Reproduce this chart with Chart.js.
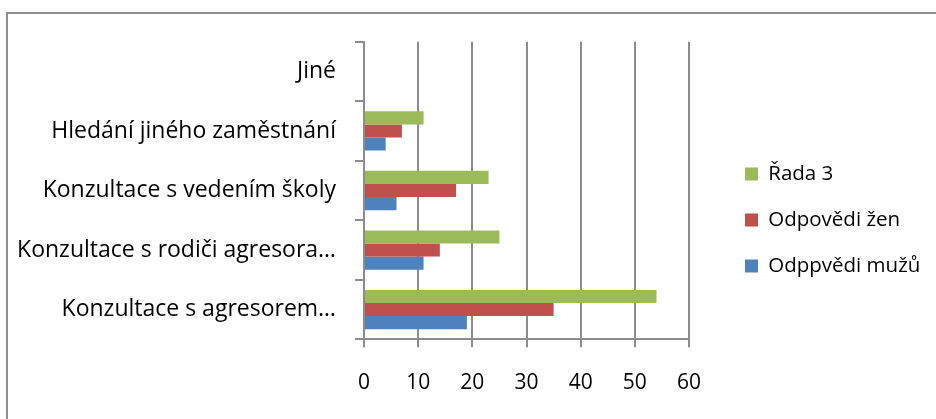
<!DOCTYPE html>
<html><head><meta charset="utf-8">
<script src="https://cdn.jsdelivr.net/npm/chart.js@4"></script>
<style>
html,body{margin:0;padding:0;background:#fff;}
#wrap{position:relative;width:936px;height:419px;overflow:hidden;}
#frame{position:absolute;left:6px;top:12px;width:940px;height:420px;border-top:2px solid #8e8e8e;border-left:2px solid #8e8e8e;box-sizing:border-box;pointer-events:none;}
canvas{position:absolute;left:0;top:0;}
</style></head><body>
<div id="wrap"><canvas id="c" width="936" height="419"></canvas><div id="frame"></div></div>
<script>
// ---- data (categories listed top to bottom) ----
const categories = ['Jiné', 'Hledání jiného zaměstnání', 'Konzultace s vedením školy', 'Konzultace s rodiči agresora…', 'Konzultace s agresorem…'];
const seriesNames = ['Řada 3', 'Odpovědi žen', 'Odppvědi mužů'];
const rada3 = [null, 11, 23, 25, 54];
const odpovediZen = [null, 7, 17, 14, 35];
const odpovediMuzu = [null, 4, 6, 11, 19];
const xTicks = [0, 10, 20, 30, 40, 50, 60];

// ---- styling / layout constants ----
const colors = ['#9BBB59', '#C0504D', '#4F81BD'];
const GRID = '#8c8c8c';
const CHART_LEFT = 364, CHART_TOP = 41.7, CHART_BOTTOM = 339.3, W = 936, H = 419;
const LEGEND_W = 247, LEGEND_PAD = 25.5, LEGEND_ITEM_X = 745;

const legendPlacer = {
  id: 'legendPlacer',
  beforeLayout(chart) {
    const lg = chart.legend;
    if (lg && !lg.__wrapped) {
      const f = lg.fit;
      lg.fit = function () { f.call(this); this.width = LEGEND_W; };
      lg.__wrapped = true;
    }
  },
  afterLayout(chart) {
    const lg = chart.legend;
    const shift = LEGEND_ITEM_X - LEGEND_PAD - lg.left;
    lg.left += shift; lg.right = lg.left + lg.width;
    lg.top = 21; lg.bottom = H; lg.height = H - 21;
  }
};

const seriesData = [rada3, odpovediZen, odpovediMuzu];
new Chart(document.getElementById('c'), {
  type: 'bar',
  data: {
    labels: categories,
    datasets: seriesNames.map((n, i) => ({
      label: n, data: seriesData[i], backgroundColor: colors[i], borderWidth: 0,
      barPercentage: 1.0, categoryPercentage: 0.66
    }))
  },
  options: {
    indexAxis: 'y',
    responsive: false,
    animation: false,
    layout: { padding: { top: CHART_TOP, left: 0, right: 0, bottom: 0 } },
    scales: {
      x: {
        min: xTicks[0], max: xTicks[xTicks.length - 1],
        afterBuildTicks: s => { s.ticks = xTicks.map(v => ({ value: v })); },
        afterFit: s => { s.height = H - CHART_BOTTOM; },
        grid: { color: GRID, lineWidth: 2, tickLength: 8, drawTicks: true },
        border: { color: GRID, width: 2 },
        ticks: { color: '#000', padding: 23, font: { family: 'Open Sans', size: 21 } }
      },
      y: {
        afterFit: s => { s.width = CHART_LEFT; },
        grid: { color: GRID, lineWidth: 2, tickLength: 9, drawOnChartArea: false, drawTicks: true, offset: true },
        border: { color: GRID, width: 2 },
        ticks: { color: '#000', padding: 19, font: { family: 'Open Sans', size: 23 } }
      }
    },
    plugins: {
      legend: {
        position: 'right',
        align: 'center',
        labels: { color: '#000', boxWidth: 13, boxHeight: 13, padding: LEGEND_PAD, font: { family: 'Open Sans', size: 20.5 } }
      },
      tooltip: { enabled: false }
    }
  },
  plugins: [legendPlacer]
});
</script>
</body></html>
